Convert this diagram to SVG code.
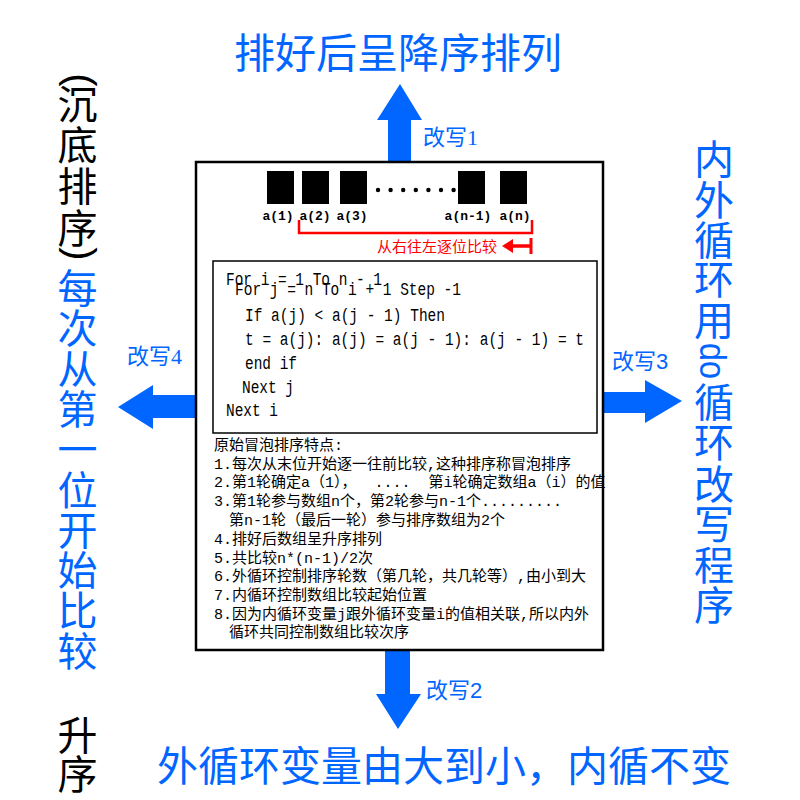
<svg xmlns="http://www.w3.org/2000/svg" width="800" height="800" viewBox="0 0 800 800">
<style>
.cjk{font-family:"Noto Sans CJK SC","Noto Sans",sans-serif;}
.big{font-size:41px;fill:#0066ff;}
.col{font-size:40px;text-anchor:middle;}
.blue{fill:#0066ff;}
.black{fill:#000;}
.paren{font-family:"Liberation Sans",sans-serif;font-size:40px;text-anchor:middle;fill:#000;}
.lbl{font-family:"Liberation Serif","Noto Sans CJK SC",serif;font-size:22px;fill:#0066ff;}
.lbls{font-family:"Liberation Sans","Noto Sans CJK SC",sans-serif;font-size:22px;fill:#0066ff;}
.arrow{fill:#0066ff;}
.sq{fill:#000;}
.idx{font-family:"Liberation Mono",monospace;font-weight:bold;font-size:13px;text-anchor:middle;fill:#000;}
.code{font-family:"Liberation Mono",monospace;font-size:18px;fill:#000;}
.note{font-family:"Liberation Mono","Noto Sans CJK SC",monospace;font-size:15px;fill:#000;}
</style>

<g id="connectors">
  <polygon class="arrow" points="388,162 388,120 377,120 400,84 422,120 411,120 411,162"/>
  <polygon class="arrow" points="385,650 410,650 410,694 421,694 398,729 376,694 385,694"/>
  <polygon class="arrow" points="196,395 153,395 153,385 118,407 153,429 153,418 196,418"/>
  <polygon class="arrow" points="602,392 645,392 645,380 682,401 645,423 645,413 602,413"/>
  <text class="lbl" x="423" y="145">改写1</text>
  <text class="lbls" x="426" y="698">改写2</text>
  <text class="lbls" x="612" y="369">改写3</text>
  <text class="lbl" x="127" y="364">改写4</text>
</g>

<g id="main-box">
  <rect x="196" y="162" width="407" height="488" fill="#fff" stroke="#000" stroke-width="2.5"/>
  <g id="array">
    <rect class="sq" x="267" y="171" width="27" height="33"/>
    <rect class="sq" x="302" y="171" width="27" height="33"/>
    <rect class="sq" x="340" y="171" width="27" height="33"/>
    <rect class="sq" x="458" y="171" width="27" height="33"/>
    <rect class="sq" x="500" y="171" width="27" height="33"/>
    <g fill="#000">
      <circle cx="378" cy="190" r="2.2"/>
      <circle cx="390.6" cy="190" r="2.2"/>
      <circle cx="403.2" cy="190" r="2.2"/>
      <circle cx="415.8" cy="190" r="2.2"/>
      <circle cx="428.4" cy="190" r="2.2"/>
      <circle cx="441" cy="190" r="2.2"/>
      <circle cx="453.6" cy="190" r="2.2"/>
    </g>
    <text class="idx" x="278" y="220">a(1)</text>
    <text class="idx" x="315" y="220">a(2)</text>
    <text class="idx" x="352" y="220">a(3)</text>
    <text class="idx" x="468" y="220">a(n-1)</text>
    <text class="idx" x="515" y="220">a(n)</text>
  </g>
  <g id="compare-direction">
    <path d="M299,220 V233 H532 V220" fill="none" stroke="#ff0000" stroke-width="2.5"/>
    <line x1="531" y1="238" x2="531" y2="254" stroke="#ff0000" stroke-width="3"/>
    <line x1="510" y1="246" x2="531" y2="246" stroke="#ff0000" stroke-width="3.5"/>
    <polygon points="502,246 513,239 513,253" fill="#ff0000"/>
    <text class="cjk" x="377" y="252" font-size="15" fill="#ff0000">从右往左逐位比较</text>
  </g>
  <g id="code">
    <rect x="213" y="261" width="384" height="172" fill="none" stroke="#000" stroke-width="1.5"/>
    <text class="code" x="226" y="284.5" textLength="156" lengthAdjust="spacingAndGlyphs">For i = 1 To n - 1</text>
    <text class="code" x="235" y="295" textLength="226" lengthAdjust="spacingAndGlyphs">For j = n To i + 1 Step -1</text>
    <text class="code" x="245" y="321" textLength="200" lengthAdjust="spacingAndGlyphs">If a(j) &lt; a(j - 1) Then</text>
    <text class="code" x="245" y="345" textLength="339" lengthAdjust="spacingAndGlyphs">t = a(j): a(j) = a(j - 1): a(j - 1) = t</text>
    <text class="code" x="245" y="368.5" textLength="52" lengthAdjust="spacingAndGlyphs">end if</text>
    <text class="code" x="242" y="393" textLength="52" lengthAdjust="spacingAndGlyphs">Next j</text>
    <text class="code" x="226" y="416" textLength="52" lengthAdjust="spacingAndGlyphs">Next i</text>
  </g>
  <g id="notes">
    <text class="note" x="214" y="450">原始冒泡排序特点:</text>
    <text class="note" x="214" y="468.5">1.每次从末位开始逐一往前比较,这种排序称冒泡排序</text>
    <text class="note" x="214" y="487" xml:space="preserve">2.第1轮确定a（1），  ....  第i轮确定数组a（i）的值</text>
    <text class="note" x="214" y="506">3.第1轮参与数组n个，第2轮参与n-1个.........</text>
    <text class="note" x="229" y="525">第n-1轮（最后一轮）参与排序数组为2个</text>
    <text class="note" x="214" y="544">4.排好后数组呈升序排列</text>
    <text class="note" x="214" y="562.5">5.共比较n*(n-1)/2次</text>
    <text class="note" x="214" y="581">6.外循环控制排序轮数（第几轮，共几轮等）,由小到大</text>
    <text class="note" x="214" y="600">7.内循环控制数组比较起始位置</text>
    <text class="note" x="214" y="618.5">8.因为内循环变量j跟外循环变量i的值相关联,所以内外</text>
    <text class="note" x="229" y="637">循环共同控制数组比较次序</text>
  </g>
</g>

<g id="top-result">
  <text class="cjk big" x="234" y="68">排好后呈降序排列</text>
</g>

<g id="bottom-result">
  <text class="cjk big" x="157" y="781">外循环变量由大到小，内循不变</text>
</g>

<g id="left-result">
  <text class="paren" transform="translate(77.5,80) rotate(90)" x="0" y="11">(</text>
  <g class="cjk col">
    <text class="black" x="77.5" y="119">沉</text>
    <text class="black" x="77.5" y="160">底</text>
    <text class="black" x="77.5" y="201">排</text>
    <text class="black" x="77.5" y="243">序</text>
  </g>
  <text class="paren" transform="translate(77.5,254) rotate(90)" x="0" y="11">)</text>
  <g class="cjk col blue">
    <text x="77.5" y="303">每</text>
    <text x="77.5" y="343.3">次</text>
    <text x="77.5" y="383.6">从</text>
    <text x="77.5" y="423.9">第</text>
    <text x="77.5" y="464.2">一</text>
    <text x="77.5" y="504.5">位</text>
    <text x="77.5" y="544.8">开</text>
    <text x="77.5" y="585.1">始</text>
    <text x="77.5" y="625.4">比</text>
    <text x="77.5" y="665.7">较</text>
  </g>
  <g class="cjk col black">
    <text x="77.5" y="750">升</text>
    <text x="77.5" y="789">序</text>
  </g>
</g>

<g id="right-result" class="cjk col blue">
  <text x="714" y="174">内</text>
  <text x="714" y="215">外</text>
  <text x="714" y="255">循</text>
  <text x="714" y="294">环</text>
  <text x="714" y="335">用</text>
  <text transform="translate(700,343) rotate(90)" style="text-anchor:start;font-family:'Liberation Sans',sans-serif;font-size:36px" textLength="36" lengthAdjust="spacingAndGlyphs">do</text>
  <text x="714" y="417">循</text>
  <text x="714" y="457">环</text>
  <text x="714" y="499">改</text>
  <text x="714" y="539">写</text>
  <text x="714" y="580">程</text>
  <text x="714" y="620">序</text>
</g>
</svg>
